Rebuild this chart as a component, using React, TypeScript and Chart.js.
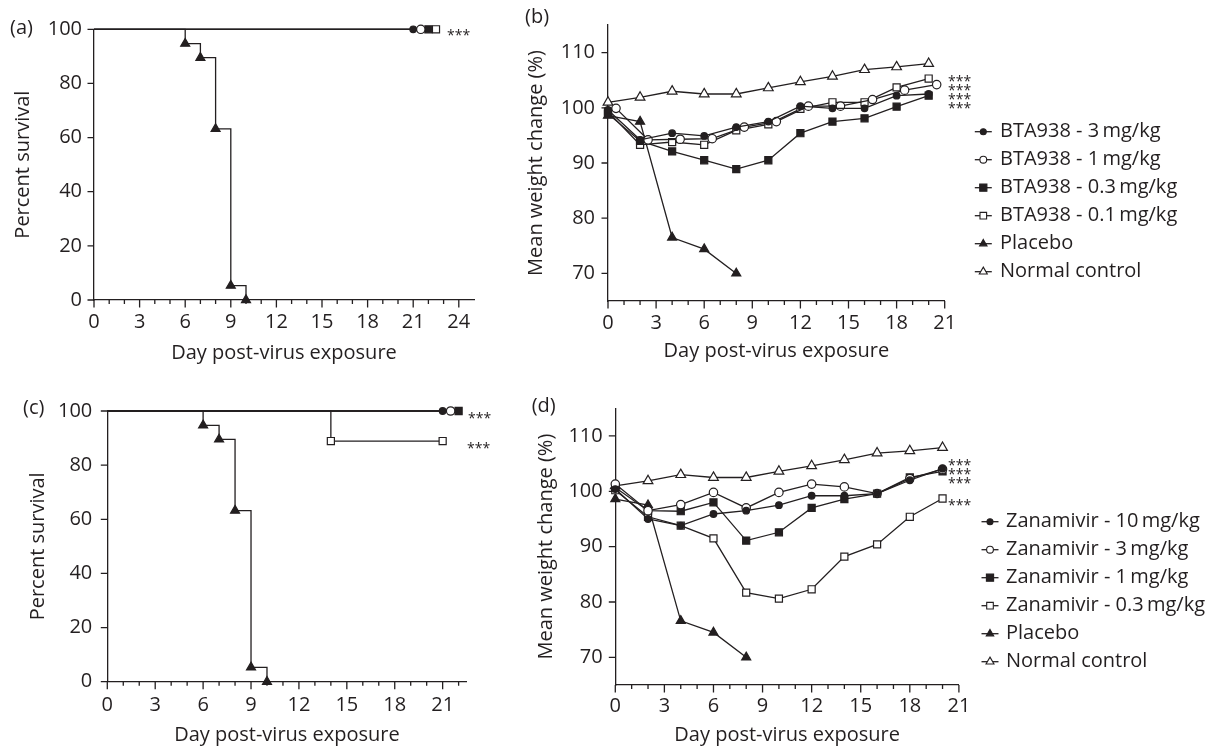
import React, { useEffect, useRef } from 'react';
import { Chart, registerables } from 'chart.js';

Chart.register(...registerables);

const INK = '#231f20';
const FAMILY = "'Open Sans', 'Noto Sans', sans-serif";

// ---------------- survival data ----------------
const placeboSurvDays = [0, 6, 7, 8, 9, 10];
const placeboSurv = [100, 94.7, 89.5, 63.2, 5.3, 0];

const btaSurvDays3 = [0, 21];
const btaSurv3 = [100, 100];
const btaSurvDays1 = [0, 21.5];
const btaSurv1 = [100, 100];
const btaSurvDays03 = [0, 22];
const btaSurv03 = [100, 100];
const btaSurvDays01 = [0, 22.5];
const btaSurv01 = [100, 100];

const zanSurvDays10 = [0, 21];
const zanSurv10 = [100, 100];
const zanSurvDays3 = [0, 21.5];
const zanSurv3 = [100, 100];
const zanSurvDays1 = [0, 22];
const zanSurv1 = [100, 100];
const zanSurvDays03 = [0, 14, 21];
const zanSurv03 = [100, 88.9, 88.9];

// ---------------- weight data ----------------
const weightDays = [0, 2, 4, 6, 8, 10, 12, 14, 16, 18, 20];
const weightDaysShifted = [0.5, 2.5, 4.5, 6.5, 8.5, 10.5, 12.5, 14.5, 16.5, 18.5, 20.5];
const placeboDays = [0, 2, 4, 6, 8];

const btaW3 = [99.6, 94.2, 95.4, 94.9, 96.5, 97.5, 100.3, 99.9, 99.9, 102.2, 102.5];
const btaW1 = [99.9, 94.2, 94.3, 94.4, 96.5, 97.5, 100.3, 100.3, 101.5, 103.2, 104.2];
const btaW03 = [98.9, 94.0, 92.1, 90.5, 88.9, 90.5, 95.4, 97.5, 98.1, 100.2, 102.2];
const btaW01 = [99.3, 93.3, 93.8, 93.3, 95.9, 97.0, 99.8, 101.0, 101.0, 103.7, 105.3];
const placeboWB = [98.6, 97.5, 76.5, 74.4, 70.0];
const normalWB = [101.0, 101.9, 103.0, 102.5, 102.5, 103.6, 104.7, 105.7, 106.9, 107.4, 108.0];

const zanW10 = [100.4, 95.0, 93.8, 95.9, 96.5, 97.5, 99.2, 99.2, 99.6, 102.0, 104.1];
const zanW3 = [101.3, 96.5, 97.6, 99.8, 97.0, 99.8, 101.3, 100.8, 99.6, 102.3, 104.0];
const zanW1 = [100.7, 96.5, 96.4, 98.0, 91.1, 92.6, 97.0, 98.6, 99.6, 102.5, 103.6];
const zanW03 = [100.2, 95.4, 93.8, 91.5, 81.7, 80.6, 82.3, 88.2, 90.4, 95.4, 98.7];
const placeboWD = [98.6, 97.5, 76.6, 74.5, 70.0];
const normalWD = [101.0, 101.9, 103.0, 102.5, 102.5, 103.6, 104.6, 105.7, 106.9, 107.3, 107.9];

// ---------------- ticks ----------------
const survYTicks = [0, 20, 40, 60, 80, 100];
const weightYTicks = [70, 80, 90, 100, 110];
const xTicksA = [0, 3, 6, 9, 12, 15, 18, 21, 24];
const xTicks21 = [0, 3, 6, 9, 12, 15, 18, 21];

const X_TITLE = 'Day post-virus exposure';
const SURV_TITLE = 'Percent survival';
const WEIGHT_TITLE = 'Mean weight change (%)';

type Mk = 'fc' | 'oc' | 'fs' | 'os' | 'ft' | 'ot';
const MARK: Record<Mk, { style: string; r: number; fill: string; lr: number }> = {
  fc: { style: 'circle', r: 3.3, fill: INK, lr: 3.0 },
  oc: { style: 'circle', r: 4.2, fill: '#ffffff', lr: 3.4 },
  fs: { style: 'rect', r: 5.0, fill: INK, lr: 3.6 },
  os: { style: 'rect', r: 5.0, fill: '#ffffff', lr: 3.3 },
  ft: { style: 'triangle', r: 5.2, fill: INK, lr: 4.3 },
  ot: { style: 'triangle', r: 5.6, fill: '#ffffff', lr: 4.6 },
};

function ds(label: string, xs: number[], ys: number[], mk: Mk, survival = false) {
  const m = MARK[mk];
  return {
    label,
    mk,
    data: xs.map((x, i) => ({ x, y: ys[i] })),
    borderColor: INK,
    borderWidth: 1.3,
    pointStyle: m.style,
    pointRadius: survival ? xs.map((_, i) => (i === 0 ? 0 : m.r)) : m.r,
    pointBackgroundColor: m.fill,
    pointBorderColor: INK,
    pointBorderWidth: 1.2,
    fill: false,
    tension: 0,
    clip: false,
    stepped: survival ? 'before' : false,
  };
}

function drawMark(ctx: CanvasRenderingContext2D, mk: Mk, x: number, y: number) {
  const m = MARK[mk];
  const r = m.lr;
  ctx.beginPath();
  if (m.style === 'circle') {
    ctx.arc(x, y, r, 0, Math.PI * 2);
  } else if (m.style === 'rect') {
    ctx.rect(x - r, y - r, 2 * r, 2 * r);
  } else {
    ctx.moveTo(x, y - r);
    ctx.lineTo(x + 0.866 * r, y + 0.5 * r);
    ctx.lineTo(x - 0.866 * r, y + 0.5 * r);
    ctx.closePath();
  }
  ctx.fillStyle = m.fill;
  ctx.fill();
  ctx.lineWidth = 1.1;
  ctx.strokeStyle = INK;
  ctx.stroke();
}

interface PanelCfg {
  left: number;
  top: number;
  w: number;
  h: number;
  areaTop: number;
  yAxisW: number;
  areaRight: number;
  xAxisH: number;
  xMin: number;
  xMax: number;
  xMinorTo: number;
  xTicks: number[];
  yMin: number;
  yMax: number;
  yTicks: number[];
  yTitle: string;
  yTitlePad: number;
  yTickPad: number;
  xTickPad: number;
  xTitlePad: number;
  datasets: any[];
  letter: { text: string; x: number; y: number };
  stars: { x: number; y: number }[];
  legend?: { sx: number; tx: number; y0: number; dy: number };
}

function makeDecor(cfg: PanelCfg) {
  return {
    id: 'decor',
    afterDraw(chart: any) {
      const ctx: CanvasRenderingContext2D = chart.ctx;
      const xs = chart.scales.x;
      const ys = chart.scales.y;
      const { left, bottom } = chart.chartArea;
      ctx.save();
      ctx.strokeStyle = INK;
      ctx.lineWidth = 1.3;
      ctx.beginPath();
      for (let v = cfg.xMin; v <= cfg.xMinorTo + 1e-6; v += 1) {
        const p = xs.getPixelForValue(v);
        const len = v % 3 === 0 ? 7.5 : 4;
        ctx.moveTo(p, bottom);
        ctx.lineTo(p, bottom + len);
      }
      ys.ticks.forEach((t: any) => {
        const p = ys.getPixelForValue(t.value);
        ctx.moveTo(left, p);
        ctx.lineTo(left - 6.5, p);
      });
      ctx.stroke();

      ctx.fillStyle = INK;
      ctx.textAlign = 'left';
      ctx.textBaseline = 'middle';
      ctx.font = `20px ${FAMILY}`;
      ctx.fillText(cfg.letter.text, cfg.letter.x, cfg.letter.y);

      ctx.font = `14px ${FAMILY}`;
      ctx.textBaseline = 'alphabetic';
      cfg.stars.forEach((s) => ctx.fillText('***', s.x, s.y + 8));

      if (cfg.legend) {
        const L = cfg.legend;
        ctx.font = `20px ${FAMILY}`;
        ctx.textBaseline = 'middle';
        chart.data.datasets.forEach((d: any, i: number) => {
          const y = L.y0 + i * L.dy;
          ctx.beginPath();
          ctx.moveTo(L.sx - 8.5, y);
          ctx.lineTo(L.sx + 8.5, y);
          ctx.lineWidth = 1.3;
          ctx.strokeStyle = INK;
          ctx.stroke();
          drawMark(ctx, d.mk, L.sx, y);
          ctx.fillStyle = INK;
          ctx.fillText(d.label, L.tx, y);
        });
      }
      ctx.restore();
    },
  };
}

function buildConfig(cfg: PanelCfg): any {
  const font = { family: FAMILY, size: 20 };
  return {
    type: 'line',
    data: { datasets: cfg.datasets },
    options: {
      responsive: false,
      maintainAspectRatio: false,
      animation: false,
      devicePixelRatio: 1,
      events: [],
      layout: {
        autoPadding: false,
        padding: { left: 0, top: cfg.areaTop, right: cfg.w - cfg.areaRight, bottom: 0 },
      },
      plugins: { legend: { display: false }, tooltip: { enabled: false } },
      scales: {
        x: {
          type: 'linear',
          min: cfg.xMin,
          max: cfg.xMax,
          grid: { display: false, drawTicks: false },
          border: { display: true, color: INK, width: 1.3 },
          afterBuildTicks: (s: any) => {
            s.ticks = cfg.xTicks.map((v) => ({ value: v }));
          },
          ticks: {
            autoSkip: false,
            maxRotation: 0,
            color: INK,
            font,
            padding: cfg.xTickPad,
            callback: (v: any) => String(v),
          },
          title: {
            display: true,
            text: X_TITLE,
            color: INK,
            font,
            padding: { top: 0, bottom: cfg.xTitlePad },
          },
          afterFit: (s: any) => {
            s.height = cfg.xAxisH;
          },
        },
        y: {
          type: 'linear',
          min: cfg.yMin,
          max: cfg.yMax,
          grid: { display: false, drawTicks: false },
          border: { display: true, color: INK, width: 1.3 },
          afterBuildTicks: (s: any) => {
            s.ticks = cfg.yTicks.map((v) => ({ value: v }));
          },
          ticks: {
            autoSkip: false,
            color: INK,
            font,
            padding: cfg.yTickPad,
            callback: (v: any) => String(v),
          },
          title: {
            display: true,
            text: cfg.yTitle,
            color: INK,
            font,
            padding: { top: cfg.yTitlePad, bottom: 0 },
          },
          afterFit: (s: any) => {
            s.width = cfg.yAxisW;
          },
        },
      },
    },
    plugins: [makeDecor(cfg)],
  };
}

const panelA: PanelCfg = {
  left: 0, top: 0, w: 505, h: 375,
  areaTop: 29.3, yAxisW: 94, areaRight: 474, xAxisH: 75,
  xMin: 0, xMax: 25, xMinorTo: 24, xTicks: xTicksA,
  yMin: 0, yMax: 100, yTicks: survYTicks,
  yTitle: SURV_TITLE, yTitlePad: 11, yTickPad: 12, xTickPad: 10.7, xTitlePad: 10,
  datasets: [
    ds('BTA938 - 3\u2009mg/kg', btaSurvDays3, btaSurv3, 'fc', true),
    ds('BTA938 - 1\u2009mg/kg', btaSurvDays1, btaSurv1, 'oc', true),
    ds('BTA938 - 0.3\u2009mg/kg', btaSurvDays03, btaSurv03, 'fs', true),
    ds('BTA938 - 0.1\u2009mg/kg', btaSurvDays01, btaSurv01, 'os', true),
    ds('Placebo', placeboSurvDays, placeboSurv, 'ft', true),
  ],
  letter: { text: '(a)', x: 10, y: 28 },
  stars: [{ x: 447, y: 31.7 }],
};

const panelB: PanelCfg = {
  left: 505, top: 0, w: 715, h: 375,
  areaTop: 24, yAxisW: 103, areaRight: 439.7, xAxisH: 74,
  xMin: 0, xMax: 21, xMinorTo: 21, xTicks: xTicks21,
  yMin: 65, yMax: 115, yTicks: weightYTicks,
  yTitle: WEIGHT_TITLE, yTitlePad: 19.7, yTickPad: 13, xTickPad: 10.3, xTitlePad: 11.3,
  datasets: [
    ds('BTA938 - 3\u2009mg/kg', weightDays, btaW3, 'fc'),
    ds('BTA938 - 1\u2009mg/kg', weightDaysShifted, btaW1, 'oc'),
    ds('BTA938 - 0.3\u2009mg/kg', weightDays, btaW03, 'fs'),
    ds('BTA938 - 0.1\u2009mg/kg', weightDays, btaW01, 'os'),
    ds('Placebo', placeboDays, placeboWB, 'ft'),
    ds('Normal control', weightDays, normalWB, 'ot'),
  ],
  letter: { text: '(b)', x: 20, y: 17.5 },
  stars: [{ x: 443, y: 78 }, { x: 443, y: 87 }, { x: 443, y: 96 }, { x: 443, y: 105 }],
  legend: { sx: 478.3, tx: 495, y0: 131.7, dy: 28 },
};

const panelC: PanelCfg = {
  left: 0, top: 375, w: 505, h: 375,
  areaTop: 36, yAxisW: 107.3, areaRight: 466.6, xAxisH: 68.3,
  xMin: 0, xMax: 22.5, xMinorTo: 22, xTicks: xTicks21,
  yMin: 0, yMax: 100, yTicks: survYTicks,
  yTitle: SURV_TITLE, yTitlePad: 26.3, yTickPad: 15, xTickPad: 11.3, xTitlePad: 3,
  datasets: [
    ds('Zanamivir - 10\u2009mg/kg', zanSurvDays10, zanSurv10, 'fc', true),
    ds('Zanamivir - 3\u2009mg/kg', zanSurvDays3, zanSurv3, 'oc', true),
    ds('Zanamivir - 1\u2009mg/kg', zanSurvDays1, zanSurv1, 'fs', true),
    ds('Zanamivir - 0.3\u2009mg/kg', zanSurvDays03, zanSurv03, 'os', true),
    ds('Placebo', placeboSurvDays, placeboSurv, 'ft', true),
  ],
  letter: { text: '(c)', x: 23, y: 33 },
  stars: [{ x: 468, y: 40 }, { x: 467, y: 70 }],
};

const panelD: PanelCfg = {
  left: 505, top: 375, w: 715, h: 375,
  areaTop: 33.3, yAxisW: 110.3, areaRight: 453.9, xAxisH: 65,
  xMin: 0, xMax: 21, xMinorTo: 21, xTicks: xTicks21,
  yMin: 65, yMax: 115, yTicks: weightYTicks,
  yTitle: WEIGHT_TITLE, yTitlePad: 29.7, yTickPad: 12.6, xTickPad: 9.7, xTitlePad: 3,
  datasets: [
    ds('Zanamivir - 10\u2009mg/kg', weightDays, zanW10, 'fc'),
    ds('Zanamivir - 3\u2009mg/kg', weightDays, zanW3, 'oc'),
    ds('Zanamivir - 1\u2009mg/kg', weightDays, zanW1, 'fs'),
    ds('Zanamivir - 0.3\u2009mg/kg', weightDays, zanW03, 'os'),
    ds('Placebo', placeboDays, placeboWD, 'ft'),
    ds('Normal control', weightDays, normalWD, 'ot'),
  ],
  letter: { text: '(d)', x: 26.7, y: 31 },
  stars: [{ x: 443, y: 87 }, { x: 443, y: 96 }, { x: 443, y: 105 }, { x: 443, y: 126.7 }],
  legend: { sx: 485, tx: 501, y0: 146.7, dy: 28 },
};

function Panel({ cfg }: { cfg: PanelCfg }) {
  const ref = useRef<HTMLCanvasElement>(null);
  useEffect(() => {
    const chart = new Chart(ref.current as HTMLCanvasElement, buildConfig(cfg));
    return () => chart.destroy();
  }, [cfg]);
  return (
    <canvas
      ref={ref}
      width={cfg.w}
      height={cfg.h}
      style={{ position: 'absolute', left: cfg.left, top: cfg.top, width: cfg.w, height: cfg.h }}
    />
  );
}

export default function App() {
  return (
    <div style={{ position: 'absolute', left: 0, top: 0, width: 1220, height: 750, background: '#ffffff', overflow: 'hidden' }}>
      <Panel cfg={panelA} />
      <Panel cfg={panelB} />
      <Panel cfg={panelC} />
      <Panel cfg={panelD} />
    </div>
  );
}
